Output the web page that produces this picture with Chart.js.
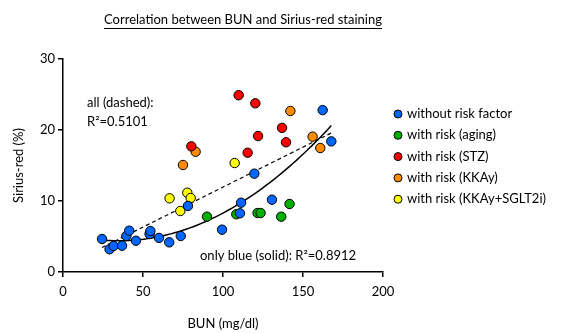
<!DOCTYPE html>
<html>
<head>
<meta charset="utf-8">
<script src="https://cdn.jsdelivr.net/npm/chart.js@4.4.0/dist/chart.umd.min.js"></script>
<style>
  html, body { margin: 0; padding: 0; background: #fff; }
</style>
</head>
<body>
<canvas id="chart" width="561" height="333"></canvas>
<script>
// ------------------------------------
// Data
// ------------------------------------
const groupNames = [
    'without risk factor',
    'with risk (aging)',
    'with risk (STZ)',
    'with risk (KKAy)',
    'with risk (KKAy+SGLT2i)'
];
const groupColors = ['#0066ff', '#00b000', '#ff0000', '#ff8c00', '#ffff00'];

const blueBUN = [24.4, 29.1, 31.6, 36.9, 39.6, 41.4, 45.6, 54.1, 54.6, 60.0, 66.4, 73.6, 78.1, 99.4, 110.6, 111.3, 119.6, 130.6, 162.3, 167.7];
const blueSR  = [4.65, 3.2, 3.66, 3.7, 5.07, 5.82, 4.4, 5.35, 5.77, 4.8, 4.18, 5.07, 9.3, 5.96, 8.27, 9.76, 13.85, 10.18, 22.8, 18.4];

const greenBUN = [90.0, 108.3, 121.6, 123.5, 136.4, 141.6];
const greenSR  = [7.79, 8.13, 8.31, 8.31, 7.79, 9.58];

const redBUN = [80.2, 109.8, 115.4, 120.2, 121.9, 136.9, 139.4];
const redSR  = [17.7, 24.9, 16.8, 23.76, 19.15, 20.3, 18.27];

const orangeBUN = [75.0, 82.9, 142.1, 156.0, 160.8];
const orangeSR  = [15.07, 16.94, 22.68, 19.06, 17.46];

const yellowBUN = [66.6, 73.3, 77.7, 79.8, 107.3];
const yellowSR  = [10.38, 8.59, 11.17, 10.42, 15.35];

const xTicks = [0, 50, 100, 150, 200];
const yTicks = [0, 10, 20, 30];

const chartTitle = 'Correlation between BUN and Sirius-red staining';
const allFitText = ['all (dashed):', 'R\u00b2=0.5101'];
const blueFitText = 'only blue (solid): R\u00b2=0.8912';

const FONT = "Lato, 'Open Sans', sans-serif";

// ------------------------------------
// Fits (least squares on the data above)
// ------------------------------------
function linearFit(xs, ys) {
    const n = xs.length;
    const mx = xs.reduce((a, b) => a + b, 0) / n;
    const my = ys.reduce((a, b) => a + b, 0) / n;
    let sxy = 0, sxx = 0;
    for (let i = 0; i < n; i++) {
        sxy += (xs[i] - mx) * (ys[i] - my);
        sxx += (xs[i] - mx) * (xs[i] - mx);
    }
    const slope = sxy / sxx;
    return x => my + slope * (x - mx);
}

function quadFit(xs, ys) {
    const s = [0, 0, 0, 0, 0], t = [0, 0, 0];
    xs.forEach((x, i) => {
        for (let k = 0; k < 5; k++) s[k] += Math.pow(x, k);
        for (let k = 0; k < 3; k++) t[k] += Math.pow(x, k) * ys[i];
    });
    // gaussian elimination on 3x3
    const m = [
        [s[0], s[1], s[2], t[0]],
        [s[1], s[2], s[3], t[1]],
        [s[2], s[3], s[4], t[2]]
    ];
    for (let c = 0; c < 3; c++) {
        for (let r = c + 1; r < 3; r++) {
            const f = m[r][c] / m[c][c];
            for (let k = c; k < 4; k++) m[r][k] -= f * m[c][k];
        }
    }
    const coef = [0, 0, 0];
    for (let r = 2; r >= 0; r--) {
        let v = m[r][3];
        for (let k = r + 1; k < 3; k++) v -= m[r][k] * coef[k];
        coef[r] = v / m[r][r];
    }
    return x => coef[0] + coef[1] * x + coef[2] * x * x;
}

function sampleFit(fn, xs, steps) {
    const lo = Math.min(...xs), hi = Math.max(...xs);
    const pts = [];
    for (let i = 0; i <= steps; i++) {
        const x = lo + (hi - lo) * i / steps;
        pts.push({ x: x, y: fn(x) });
    }
    return pts;
}

const allBUN = [].concat(blueBUN, greenBUN, redBUN, orangeBUN, yellowBUN);
const allSR = [].concat(blueSR, greenSR, redSR, orangeSR, yellowSR);

const dashedLine = sampleFit(linearFit(allBUN, allSR), allBUN, 2);
const solidLine = sampleFit(quadFit(blueBUN, blueSR), blueBUN, 60);

// ------------------------------------
// Datasets
// ------------------------------------
function toPoints(xs, ys) {
    return xs.map((x, i) => ({ x: x, y: ys[i] }));
}

const groups = [
    [blueBUN, blueSR], [greenBUN, greenSR], [redBUN, redSR],
    [orangeBUN, orangeSR], [yellowBUN, yellowSR]
];

const scatterSets = groups.map((g, i) => ({
    label: groupNames[i],
    data: toPoints(g[0], g[1]),
    backgroundColor: groupColors[i],
    borderColor: '#000',
    borderWidth: 1,
    pointRadius: 4.7,
    order: 0
}));

const lineSets = [
    {
        label: 'fit all', type: 'line', data: dashedLine,
        borderColor: '#000', borderWidth: 1.2, borderDash: [4, 3],
        pointRadius: 0, fill: false, order: 10
    },
    {
        label: 'fit blue', type: 'line', data: solidLine,
        borderColor: '#000', borderWidth: 1.5,
        pointRadius: 0, fill: false, tension: 0, order: 10
    }
];

// ------------------------------------
// Extra drawing: title, text labels, legend
// ------------------------------------
const decorations = {
    id: 'decorations',
    afterDraw(chart) {
        const ctx = chart.ctx;
        ctx.save();
        ctx.fillStyle = '#000';
        ctx.strokeStyle = '#000';

        // underlined title
        ctx.font = '13px ' + FONT;
        ctx.textAlign = 'center';
        ctx.textBaseline = 'middle';
        ctx.fillText(chartTitle, 243, 20);
        const w = ctx.measureText(chartTitle).width;
        ctx.lineWidth = 1;
        ctx.beginPath();
        ctx.moveTo(243 - w / 2, 28.5);
        ctx.lineTo(243 + w / 2, 28.5);
        ctx.stroke();

        // R² labels
        ctx.textAlign = 'left';
        ctx.fillText(allFitText[0], 87, 103);
        ctx.fillText(allFitText[1], 87, 122);
        ctx.fillText(blueFitText, 200, 256);

        // legend
        groupNames.forEach((name, i) => {
            const y = 114 + i * 21.3;
            ctx.beginPath();
            ctx.arc(398, y, 4, 0, Math.PI * 2);
            ctx.fillStyle = groupColors[i];
            ctx.fill();
            ctx.lineWidth = 1;
            ctx.stroke();
            ctx.fillStyle = '#000';
            ctx.fillText(name, 407, y);
        });
        ctx.restore();
    }
};

const axisFont = { family: FONT, size: 13 };

new Chart(document.getElementById('chart'), {
    type: 'scatter',
    data: { datasets: scatterSets.concat(lineSets) },
    options: {
        responsive: false,
        animation: false,
        layout: { padding: { top: 59, right: 178, left: 0, bottom: 0 } },
        plugins: {
            legend: { display: false },
            tooltip: { enabled: false }
        },
        scales: {
            x: {
                type: 'linear', min: 0, max: 200,
                afterBuildTicks: s => { s.ticks = xTicks.map(v => ({ value: v })); },
                afterFit: s => { s.height = 61; },
                ticks: { color: '#000', font: axisFont, padding: 7 },
                grid: { display: true, drawOnChartArea: false, drawTicks: true, tickLength: 5, color: '#000', lineWidth: 1.5 },
                border: { display: true, color: '#000', width: 1.5 },
                title: { display: true, text: 'BUN (mg/dl)', color: '#000', font: axisFont, padding: { top: 0, bottom: 1 } }
            },
            y: {
                type: 'linear', min: 0, max: 30,
                afterBuildTicks: s => { s.ticks = yTicks.map(v => ({ value: v })); },
                afterFit: s => { s.width = 63; },
                ticks: { color: '#000', font: axisFont, padding: 3 },
                grid: { display: true, drawOnChartArea: false, drawTicks: true, tickLength: 5, color: '#000', lineWidth: 1.5 },
                border: { display: true, color: '#000', width: 1.5 },
                title: { display: true, text: 'Sirius-red (%)', color: '#000', font: axisFont, padding: { top: 11, bottom: 0 } }
            }
        }
    },
    plugins: [decorations]
});
</script>
</body>
</html>
